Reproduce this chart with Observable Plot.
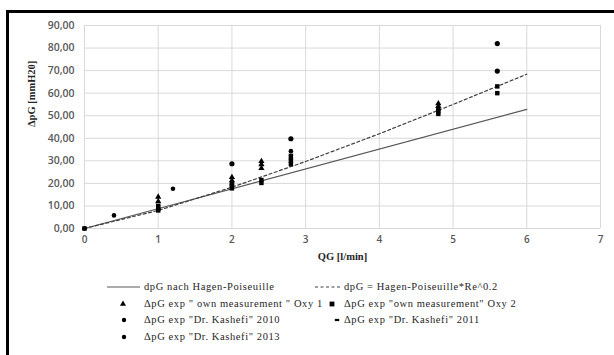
<!DOCTYPE html>
<html><head><meta charset="utf-8">
<script src="https://cdn.jsdelivr.net/npm/d3@7"></script>
<script src="https://cdn.jsdelivr.net/npm/@observablehq/plot@0.6"></script>
<style>
html,body{margin:0;padding:0;background:#fff;width:614px;height:355px;overflow:hidden;}
#frame{position:absolute;left:6px;top:10px;right:-5px;bottom:-5px;border-left:3px solid #000;border-top:3px solid #000;}
#chart{position:absolute;left:0;top:0;}
#legend{position:absolute;left:0;top:0;width:614px;height:355px;font-family:"Liberation Serif",serif;font-size:10.5px;letter-spacing:0.6px;color:#262626;}
.item{position:absolute;height:14px;line-height:14px;white-space:nowrap;}
.item svg{position:absolute;top:0;}
</style></head>
<body><div id="frame"></div><div id="chart"></div><div id="legend"></div>
<script>
// ---- data ----
const xTicks = [0, 1, 2, 3, 4, 5, 6, 7];
const yTicks = [0, 10, 20, 30, 40, 50, 60, 70, 80, 90];

// dpG nach Hagen-Poiseuille (solid)
const hpX = [0, 6];
const hpY = [0, 52.8];
// dpG = Hagen-Poiseuille*Re^0.2 (dashed)
const hpReX = [0, 1, 2, 3, 4, 5, 6];
const hpReY = [0, 8.0, 18.3, 29.7, 42.0, 55.0, 68.4];

// ΔpG exp "own measurement" Oxy 1 (triangles)
const oxy1X = [1, 1, 2, 2, 2.4, 2.4, 2.4, 4.8, 4.8];
const oxy1Y = [12, 14, 21.3, 22.7, 26.7, 28.4, 29.8, 54.2, 55.4];
// ΔpG exp "own measurement" Oxy 2 (squares)
const oxy2X = [0, 1, 1, 1, 2, 2, 2, 2.4, 2.4, 2.8, 2.8, 2.8, 4.8, 4.8, 4.8, 5.6, 5.6];
const oxy2Y = [0, 8, 8.7, 9.5, 17.8, 18.8, 19.8, 20.2, 21.5, 28.5, 30, 31.5, 50.8, 52, 53, 60, 63];
// ΔpG exp "Dr. Kashefi" 2010
const k2010X = [0, 0.4, 1.2, 2.8];
const k2010Y = [0, 5.8, 17.6, 34.3];
// ΔpG exp "Dr. Kashefi" 2011
const k2011X = [1, 2, 2.8];
const k2011Y = [10.5, 19.5, 32.7];
// ΔpG exp "Dr. Kashefi" 2013
const k2013X = [2, 2.8, 5.6, 5.6];
const k2013Y = [28.7, 39.8, 69.8, 82];

const legendLabels = [
  'dpG nach Hagen-Poiseuille',
  'dpG = Hagen-Poiseuille*Re^0.2',
  'ΔpG exp " own measurement  " Oxy 1',
  'ΔpG exp "own measurement" Oxy 2',
  'ΔpG exp "Dr. Kashefi"  2010',
  'ΔpG exp "Dr. Kashefi"  2011',
  'ΔpG exp "Dr. Kashefi"  2013'
];
const legendKinds = ["solid", "dashed", "triangle", "square", "dot", "dash", "dot"];

const pts = (xs, ys) => xs.map((x, i) => ({x, y: ys[i]}));
const dash = {draw(ctx, size) { const w = 2.2, h = 1.1; ctx.rect(-w, -h, 2 * w, 2 * h); }};

const plot = Plot.plot({
  width: 614, height: 265,
  marginLeft: 84, marginRight: 14, marginTop: 25, marginBottom: 37,
  style: {background: "transparent", fontFamily: "'Open Sans', sans-serif", fontSize: "10px", color: "#595959", overflow: "visible"},
  x: {domain: [0, 7], label: null},
  y: {domain: [0, 90], label: null},
  marks: [
    Plot.gridX(xTicks, {stroke: "#d9d9d9", strokeOpacity: 1}),
    Plot.gridY(yTicks, {stroke: "#d9d9d9", strokeOpacity: 1}),
    Plot.axisX(xTicks, {tickSize: 0, tickPadding: 7, label: null, fill: "#595959", fontSize: 10, fontWeight: 600}),
    Plot.axisY(yTicks, {tickSize: 0, tickPadding: 10, label: null, fill: "#595959", fontSize: 10.5, fontWeight: 600,
      tickFormat: d => d3.format(".2f")(d).replace(".", ",")}),
    Plot.text(["QG [l/min]"], {frameAnchor: "bottom", dy: 31, fontFamily: "'Liberation Serif', serif", fontWeight: "bold", fontSize: 10.5, fill: "#262626"}),
    Plot.text(["ΔpG [mmH20]"], {frameAnchor: "left", dx: -53, rotate: -90, fontFamily: "'Liberation Serif', serif", fontWeight: "bold", fontSize: 10.5, fill: "#262626"}),
    Plot.line(pts(hpX, hpY), {x: "x", y: "y", stroke: "#595959", strokeWidth: 1.2}),
    Plot.line(pts(hpReX, hpReY), {x: "x", y: "y", stroke: "#404040", strokeWidth: 1.2, strokeDasharray: "3,2.5"}),
    Plot.dot(pts(oxy2X, oxy2Y), {x: "x", y: "y", symbol: "square", r: 2.5, fill: "#000"}),
    Plot.dot(pts(oxy1X, oxy1Y), {x: "x", y: "y", symbol: "triangle", r: 2.3, fill: "#000"}),
    Plot.dot(pts(k2010X, k2010Y), {x: "x", y: "y", symbol: "circle", r: 2.3, fill: "#000"}),
    Plot.dot(pts(k2011X, k2011Y), {x: "x", y: "y", symbol: dash, r: 2, fill: "#000"}),
    Plot.dot(pts(k2013X, k2013Y), {x: "x", y: "y", symbol: "circle", r: 2.6, fill: "#000"})
  ]
});
document.getElementById("chart").appendChild(plot);

// ---- legend ----
const symSvg = kind => {
  const w = 36, h = 14, c = h / 2;
  let inner = "";
  if (kind === "solid") inner = `<line x1="1" x2="34" y1="${c}" y2="${c}" stroke="#595959" stroke-width="1.2"/>`;
  else if (kind === "dashed") inner = `<line x1="9" x2="34" y1="${c}" y2="${c}" stroke="#404040" stroke-width="1.2" stroke-dasharray="3,2.5"/>`;
  else if (kind === "triangle") inner = `<path d="${d3.symbol(d3.symbolTriangle, 16)()}" transform="translate(17,${c})" fill="#000"/>`;
  else if (kind === "square") inner = `<rect x="${26 - 2.4}" y="${c - 2.4}" width="4.8" height="4.8" fill="#000"/>`;
  else if (kind === "dot") inner = `<circle cx="18" cy="${c}" r="2.2" fill="#000"/>`;
  else if (kind === "dash") inner = `<rect x="${31 - 2.2}" y="${c - 1.1}" width="4.4" height="2.2" fill="#000"/>`;
  return `<svg width="${w}" height="${h}" style="left:0">${inner}</svg>`;
};
const legend = document.getElementById("legend");
const rowY = [280, 297, 313, 330];
legendLabels.forEach((lab, i) => {
  const col = i % 2, row = Math.floor(i / 2);
  const left = col === 0 ? 106 : 306;
  const div = document.createElement("div");
  div.className = "item";
  div.style.left = left + "px";
  div.style.top = rowY[row] + "px";
  div.innerHTML = symSvg(legendKinds[i]) + `<span style="position:absolute;left:38px;top:0">${lab.replace(/</g, "&lt;")}</span>`;
  legend.appendChild(div);
});
</script>
</body></html>
